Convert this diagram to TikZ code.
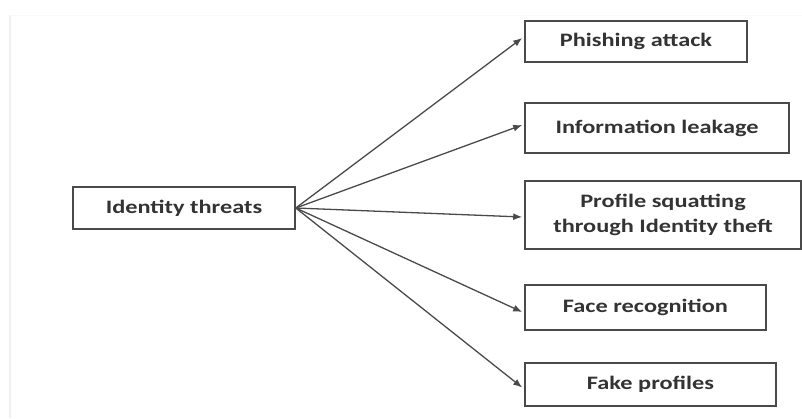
\documentclass[tikz,border=0pt]{standalone}
\usepackage{fontspec}
\setmainfont{Carlito}[FakeStretch=1.28]
\usetikzlibrary{arrows.meta}
\definecolor{edge}{HTML}{4A4A4A}
\definecolor{txt}{HTML}{333333}
\tikzset{
  box/.style={draw=edge, line width=1.6pt, rectangle, inner sep=0pt,
    text=txt, font=\fontsize{19}{25}\selectfont\bfseries, align=center},
  link/.style={draw=edge, line width=1.3pt, -{Latex[length=9pt,width=7pt]}}
}
\begin{document}
\begin{tikzpicture}[x=1pt,y=-1pt]
\useasboundingbox (0,0) rectangle (802,418);
\draw[gray!12, line width=2pt] (10,15) -- (10,418);
\draw[gray!5, line width=1pt] (10,15) -- (802,15);
\node[box, minimum width=222pt, minimum height=42pt] (it) at (184,208) {Identity threats};
\node[box, minimum width=222pt, minimum height=41pt] (ph) at (636,41.5) {Phishing attack};
\node[box, minimum width=264pt, minimum height=50pt] (il) at (657,128) {Information leakage};
\node[box, minimum width=276pt, minimum height=68pt] (ps) at (663,215) {Profile squatting\\through Identity theft};
\node[box, minimum width=241pt, minimum height=45pt] (fr) at (645.5,307.5) {Face recognition};
\node[box, minimum width=251pt, minimum height=43pt] (fp) at (650.5,384.5) {Fake profiles};
\draw[link] (it.east) -- ([xshift=-2pt,yshift=3.5pt]ph.west);
\draw[link] (it.east) -- ([xshift=-2pt,yshift=3pt]il.west);
\draw[link] (it.east) -- ([xshift=-2pt,yshift=-2pt]ps.west);
\draw[link] (it.east) -- ([xshift=-2pt,yshift=-4.5pt]fr.west);
\draw[link] (it.east) -- ([xshift=-2pt,yshift=-3pt]fp.west);
\end{tikzpicture}
\end{document}
